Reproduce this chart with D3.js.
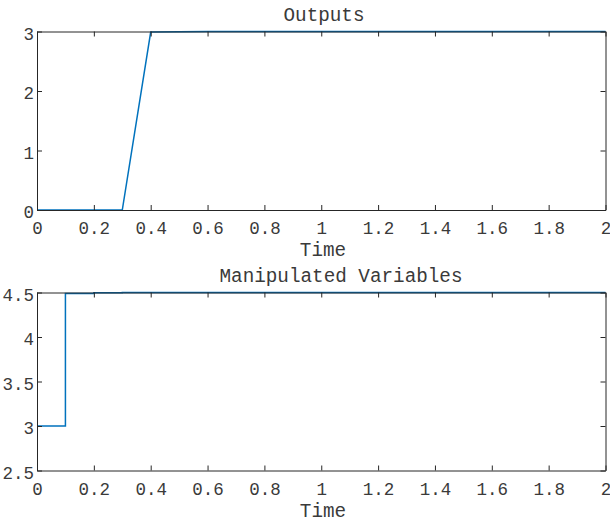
<!DOCTYPE html>
<html>
<head>
<meta charset="utf-8">
<script src="https://cdn.jsdelivr.net/npm/d3@7"></script>
<style>
  body { margin: 0; background: #fff; }
  text { font-family: "Courier New", "Nimbus Mono PS", "FreeMono", "Liberation Mono", monospace; fill: #3a3a3a; }
</style>
</head>
<body>
<svg id="chart" width="610" height="522"></svg>
<script>
// sample times (s)
var time = [0, 0.1, 0.2, 0.3, 0.4, 0.5, 0.6, 0.7, 0.8, 0.9, 1.0,
            1.1, 1.2, 1.3, 1.4, 1.5, 1.6, 1.7, 1.8, 1.9, 2.0];
// plant output
var outputs = [0, 0, 0, 0, 2.99, 2.995, 3, 3, 3, 3, 3,
               3, 3, 3, 3, 3, 3, 3, 3, 3, 3];
// manipulated variable (stairs)
var manipulated = [3, 4.49, 4.496, 4.5, 4.5, 4.5, 4.5, 4.5, 4.5, 4.5, 4.5,
                   4.5, 4.5, 4.5, 4.5, 4.5, 4.5, 4.5, 4.5, 4.5, 4.5];

var xTicks = [0, 0.2, 0.4, 0.6, 0.8, 1, 1.2, 1.4, 1.6, 1.8, 2];
var yTicksTop = [0, 1, 2, 3];
var yTicksBottom = [2.5, 3, 3.5, 4, 4.5];

var svg = d3.select("#chart");
var axisColor = "#262626";
var lineColor = "#0072BD";
var left = 37, right = 605.5;

function drawPanel(cfg) {
    var g = svg.append("g");
    var x = d3.scaleLinear().domain([0, 2]).range([left, right]);
    var y = d3.scaleLinear().domain(cfg.yDomain).range([cfg.bottom, cfg.top]);

    // data line
    var line = d3.line()
        .x(function(d) { return x(d.t); })
        .y(function(d) { return y(d.v); })
        .curve(cfg.stairs ? d3.curveStepAfter : d3.curveLinear);
    var pts = time.map(function(t, i) { return {t: t, v: cfg.values[i]}; });
    g.append("path").attr("d", line(pts))
        .attr("fill", "none")
        .attr("stroke", lineColor)
        .attr("stroke-width", 1.5);

    // axes box, ticks pointing inward
    var fmt = function(d) { return String(d); };
    var bottomAxis = d3.axisBottom(x).tickValues(xTicks).tickSizeInner(-5).tickSizeOuter(0).tickPadding(12).tickFormat(fmt);
    var topAxis = d3.axisTop(x).tickValues(xTicks).tickSizeInner(-5).tickSizeOuter(0).tickFormat("");
    var leftAxis = d3.axisLeft(y).tickValues(cfg.yTicks).tickSizeInner(-5).tickSizeOuter(0).tickPadding(3).tickFormat(fmt);
    var rightAxis = d3.axisRight(y).tickValues(cfg.yTicks).tickSizeInner(-5).tickSizeOuter(0).tickFormat("");

    var axes = [
        g.append("g").attr("transform", "translate(0," + cfg.bottom + ")").call(bottomAxis),
        g.append("g").attr("transform", "translate(0," + cfg.top + ")").call(topAxis),
        g.append("g").attr("transform", "translate(" + left + ",0)").call(leftAxis),
        g.append("g").attr("transform", "translate(" + right + ",0)").call(rightAxis)
    ];
    axes.forEach(function(a) {
        a.attr("font-family", null);
        a.select(".domain").attr("stroke", axisColor).attr("stroke-width", 1);
        a.selectAll(".tick line").attr("stroke", axisColor).attr("stroke-width", 1);
        a.selectAll(".tick text").attr("font-size", 17.5).attr("fill", "#3a3a3a");
    });
    axes[2].selectAll(".tick text").attr("dy", "0.45em");

    g.append("text")
        .attr("x", cfg.titleX).attr("y", cfg.top - 10.5)
        .attr("text-anchor", "middle")
        .attr("font-size", 19.3)
        .text(cfg.title);
    g.append("text")
        .attr("x", 323).attr("y", cfg.bottom + 46)
        .attr("text-anchor", "middle")
        .attr("font-size", 19.3)
        .text("Time");
}

drawPanel({title: "Outputs", titleX: 324, top: 31.5, bottom: 210, yDomain: [0, 3],
           yTicks: yTicksTop, values: outputs, stairs: false});
drawPanel({title: "Manipulated Variables", titleX: 341, top: 292.5, bottom: 470.5, yDomain: [2.5, 4.5],
           yTicks: yTicksBottom, values: manipulated, stairs: true});
</script>
</body>
</html>
